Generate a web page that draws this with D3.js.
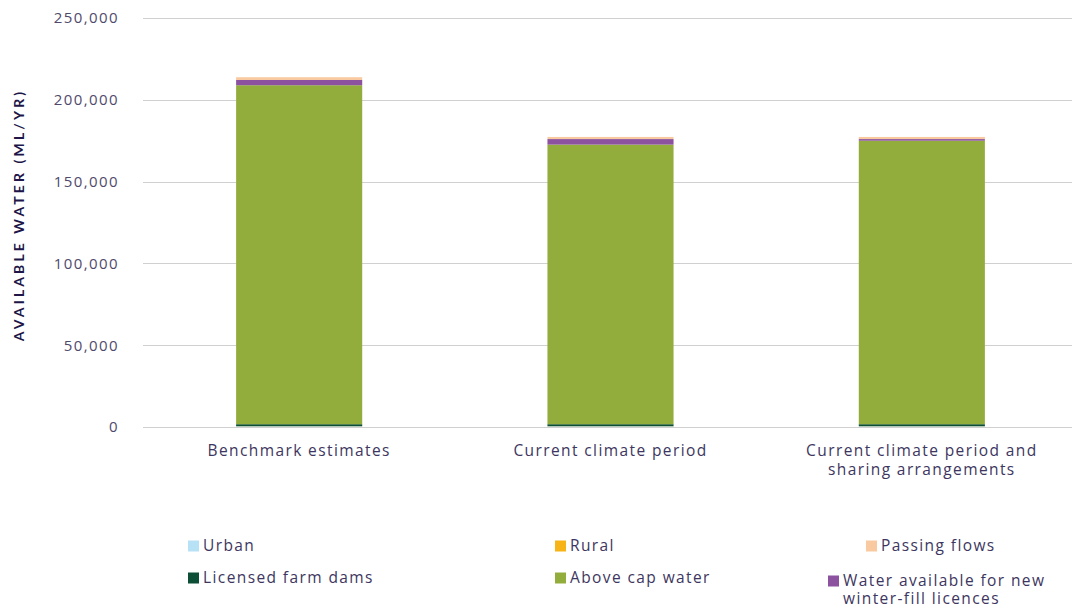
<!DOCTYPE html>
<html>
<head>
<meta charset="utf-8">
<script src="https://cdn.jsdelivr.net/npm/d3@7/dist/d3.min.js"></script>
<style>
  html, body { margin: 0; padding: 0; background: #ffffff; }
  svg { display: block; font-family: "Open Sans", "Lato", sans-serif; }
</style>
</head>
<body>
<svg id="chart" width="1072" height="610"></svg>
<script>
// Categories (scenarios) shown along the x axis
const categories = [
  ["Benchmark estimates"],
  ["Current climate period"],
  ["Current climate period and", "sharing arrangements"]
];

// Water components in stacking order (bottom to top), ML/yr
const seriesNames = [
  "Urban",
  "Rural",
  "Licensed farm dams",
  "Above cap water",
  "Water available for new winter-fill licences",
  "Passing flows"
];
const urban      = [400, 400, 400];
const rural      = [100, 100, 100];
const farmDams   = [1200, 1200, 1200];
const aboveCap   = [207200, 170900, 173300];
const winterFill = [3200, 3400, 1000];
const passing    = [1700, 1300, 1300];

const yTicks = [0, 50000, 100000, 150000, 200000, 250000];

const colors = {
  "Urban": "#b7e2f5",
  "Rural": "#f7b417",
  "Licensed farm dams": "#0c4f36",
  "Above cap water": "#93ad3c",
  "Water available for new winter-fill licences": "#8c52a0",
  "Passing flows": "#f9c9a0"
};

// Legend layout: label lines per entry, in reading order
const legendItems = [
  { name: "Urban", lines: ["Urban"] },
  { name: "Rural", lines: ["Rural"] },
  { name: "Passing flows", lines: ["Passing flows"] },
  { name: "Licensed farm dams", lines: ["Licensed farm dams"] },
  { name: "Above cap water", lines: ["Above cap water"] },
  { name: "Water available for new winter-fill licences", lines: ["Water available for new", "winter-fill licences"] }
];

const seriesData = [urban, rural, farmDams, aboveCap, winterFill, passing];
const rows = categories.map((c, i) => {
  const r = { key: c.join(" ") };
  seriesNames.forEach((s, j) => r[s] = seriesData[j][i]);
  return r;
});

const svg = d3.select("#chart");
const plotLeft = 143.5, plotRight = 1077.5, plotTop = 18, plotBottom = 427;
const textFont = "'Open Sans', sans-serif";
const textSize = 15.5;
const textSpacing = 1.4;

const x = d3.scaleBand()
  .domain(rows.map(r => r.key))
  .range([plotLeft, plotRight])
  .padding(0);
const barW = x.bandwidth() * 0.405;

const y = d3.scaleLinear().domain([0, 250000]).range([plotBottom, plotTop]);

// Gridlines
svg.append("g")
  .selectAll("line")
  .data(yTicks)
  .join("line")
  .attr("x1", 143).attr("x2", 1072)
  .attr("y1", d => Math.round(y(d)) + 0.5)
  .attr("y2", d => Math.round(y(d)) + 0.5)
  .attr("stroke", "#d0d0d0")
  .attr("stroke-width", 1);

// Y axis labels
const yAxis = svg.append("g")
  .attr("transform", `translate(119,0)`)
  .call(d3.axisLeft(y).tickValues(yTicks).tickSize(0).tickPadding(0)
    .tickFormat(d3.format(",")));
yAxis.select(".domain").remove();
yAxis.selectAll("text")
  .attr("font-family", textFont)
  .attr("font-size", 15)
  .attr("letter-spacing", 1.4)
  .attr("fill", "#4f4a6b");

// Y axis title
svg.append("text")
  .attr("transform", "translate(24,215) rotate(-90)")
  .attr("text-anchor", "middle")
  .attr("font-family", "Lato, sans-serif")
  .attr("font-size", 14)
  .attr("font-weight", 700)
  .attr("letter-spacing", 3.1)
  .attr("fill", "#201547")
  .text("AVAILABLE WATER (ML/YR)");

// Stacked bars
const stack = d3.stack().keys(seriesNames);
const layers = stack(rows);
svg.append("g")
  .selectAll("g")
  .data(layers)
  .join("g")
  .attr("fill", d => colors[d.key])
  .selectAll("rect")
  .data(d => d)
  .join("rect")
  .attr("x", d => x(d.data.key) + x.bandwidth() / 2 - barW / 2)
  .attr("width", barW)
  .attr("y", d => y(d[1]))
  .attr("height", d => Math.max(0, y(d[0]) - y(d[1])));

// X category labels
const xl = svg.append("g");
categories.forEach((c) => {
  const key = c.join(" ");
  const t = xl.append("text")
    .attr("x", x(key) + x.bandwidth() / 2)
    .attr("y", 456)
    .attr("text-anchor", "middle")
    .attr("font-family", textFont)
    .attr("font-size", textSize)
    .attr("letter-spacing", textSpacing)
    .attr("fill", "#3d3660");
  c.forEach((line, i) => {
    t.append("tspan")
      .attr("x", x(key) + x.bandwidth() / 2)
      .attr("dy", i === 0 ? 0 : 19)
      .text(line);
  });
});

// Legend
const colX = [188, 555, 866];
const rowY = [546, 578];
const legend = svg.append("g");
legendItems.forEach((item, i) => {
  const col = i % 3, row = Math.floor(i / 3);
  let sx = colX[col];
  if (item.lines.length > 1) sx = 828;
  const cy = rowY[row] + (item.lines.length > 1 ? 3 : 0);
  legend.append("rect")
    .attr("x", sx)
    .attr("y", cy - 5.5)
    .attr("width", 11)
    .attr("height", 11)
    .attr("fill", colors[item.name]);
  const t = legend.append("text")
    .attr("x", sx + 15)
    .attr("y", cy + 5)
    .attr("font-family", textFont)
    .attr("font-size", textSize)
    .attr("letter-spacing", textSpacing)
    .attr("fill", "#3d3660");
  item.lines.forEach((line, k) => {
    t.append("tspan")
      .attr("x", sx + 15)
      .attr("dy", k === 0 ? 0 : 18)
      .text(line);
  });
});
</script>
</body>
</html>
